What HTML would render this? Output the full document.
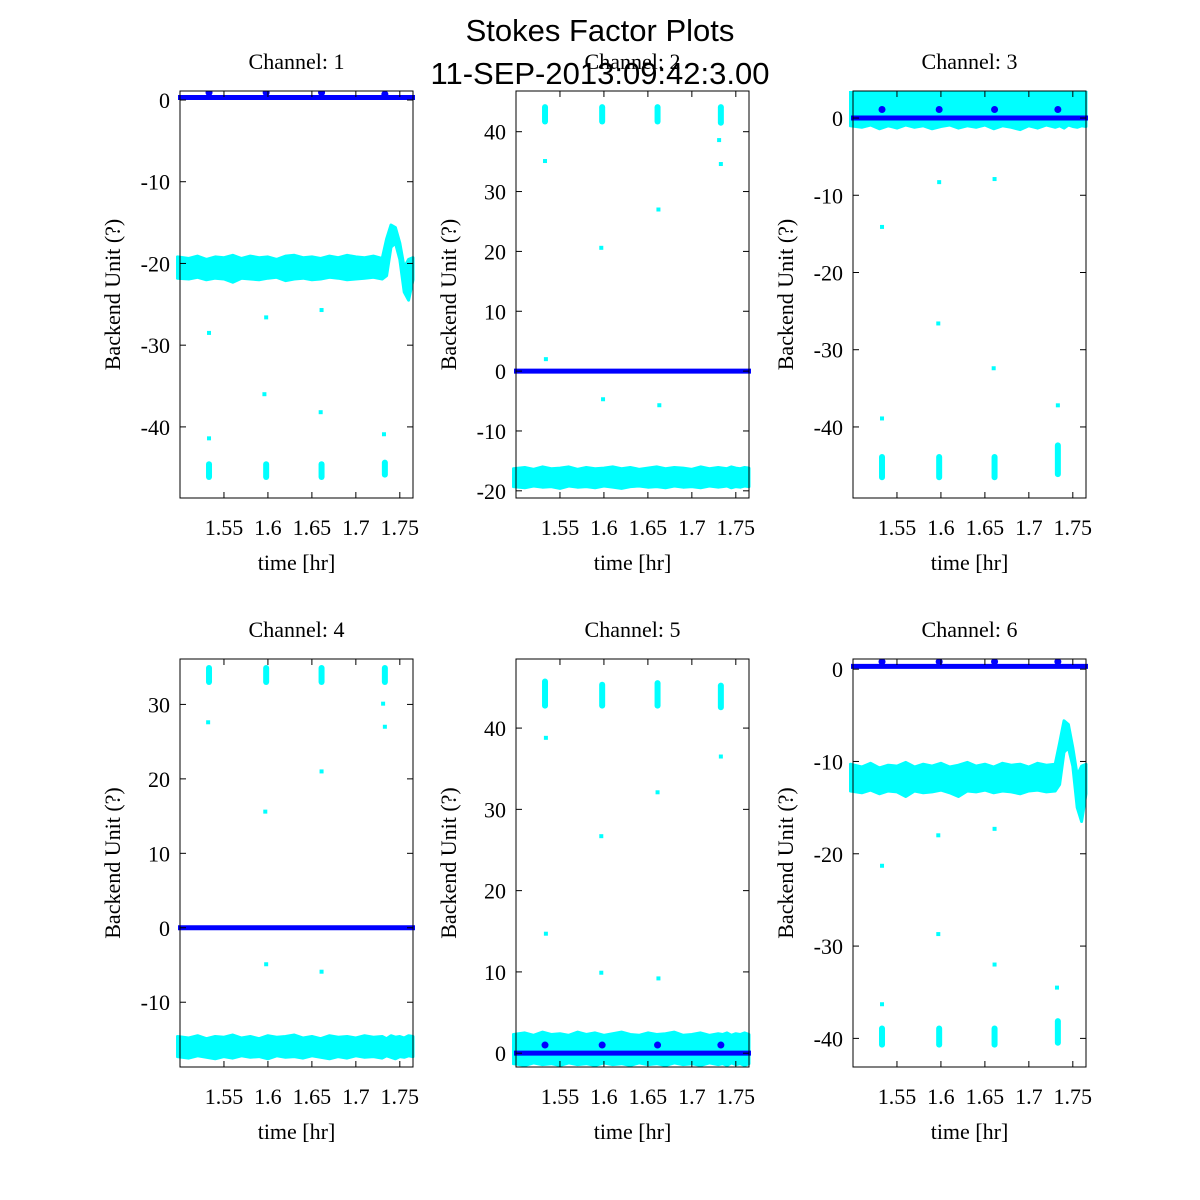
<!DOCTYPE html>
<html><head><meta charset="utf-8"><style>
html,body{margin:0;padding:0;background:#fff;}
svg{display:block;}
.t{font-family:"Liberation Serif",serif;font-size:22px;fill:#000;}
.h{font-family:"Liberation Sans",sans-serif;font-size:31px;fill:#000;}
</style></head><body>
<svg id="fig" width="1200" height="1200" viewBox="0 0 1200 1200" xmlns="http://www.w3.org/2000/svg">
<rect width="1200" height="1200" fill="#fff"/>
</svg>
<script>
const xTicks=[1.55,1.6,1.65,1.7,1.75];
const xTickLabels=["1.55","1.6","1.65","1.7","1.75"];
const xDomain=[1.5,1.765];
const pulseTimes=[1.533,1.598,1.661,1.733];
const bandTimes=[1.497,1.51,1.52,1.53,1.54,1.55,1.56,1.57,1.58,1.59,1.6,1.61,1.62,1.63,1.64,1.65,1.66,1.67,1.68,1.69,1.7,1.71,1.72,1.73,1.735,1.74,1.745,1.75,1.755,1.76,1.765];
// channel 1
const ch1YTicks=[0,-10,-20,-30,-40];
const ch1Domain=[-48.7,1.1];
const ch1BandHi=[-19.2,-19.4,-19.1,-19.5,-19.2,-19.3,-19.0,-19.4,-19.1,-19.3,-19.2,-19.5,-19.1,-19.0,-19.3,-19.2,-19.4,-19.1,-19.3,-19.0,-19.2,-19.3,-19.1,-19.4,-17.0,-15.3,-15.6,-17.5,-20.5,-19.5,-19.3];
const ch1BandLo=[-21.8,-21.9,-21.7,-22.0,-21.8,-21.9,-22.3,-21.8,-21.9,-22.0,-21.8,-21.7,-22.1,-21.9,-21.8,-22.0,-21.9,-21.7,-21.8,-22.0,-21.9,-21.8,-21.7,-21.9,-21.5,-18.0,-17.5,-19.5,-23.5,-24.5,-22.0];
const ch1Blue=0.3;
const ch1BlueMarks=[0.9,0.9,0.9,0.7];
const ch1ClusterLo=[-46.5,-46.5,-46.5,-46.2];
const ch1ClusterHi=[-44.2,-44.2,-44.2,-44.0];
const ch1OutT=[1.533,1.533,1.598,1.596,1.661,1.660,1.732];
const ch1OutV=[-28.5,-41.4,-26.6,-36.0,-25.7,-38.2,-40.9];
// channel 2
const ch2YTicks=[40,30,20,10,0,-10,-20];
const ch2Domain=[-21.2,46.8];
const ch2BandHi=[-16.3,-16.1,-16.4,-16.0,-16.3,-16.2,-16.0,-16.4,-16.1,-16.3,-16.2,-16.0,-16.3,-16.1,-16.4,-16.2,-16.0,-16.3,-16.1,-16.2,-16.4,-16.0,-16.3,-16.1,-16.2,-16.3,-16.0,-16.2,-16.3,-16.1,-16.2];
const ch2BandLo=[-19.3,-19.5,-19.2,-19.4,-19.3,-19.6,-19.2,-19.4,-19.3,-19.5,-19.2,-19.4,-19.6,-19.3,-19.2,-19.4,-19.3,-19.5,-19.2,-19.4,-19.3,-19.5,-19.2,-19.4,-19.3,-19.2,-19.5,-19.3,-19.4,-19.2,-19.3];
const ch2Blue=0;
const ch2BlueMarks=[];
const ch2ClusterLo=[41.2,41.2,41.2,41.0];
const ch2ClusterHi=[44.6,44.6,44.6,44.6];
const ch2OutT=[1.533,1.534,1.597,1.599,1.662,1.663,1.731,1.733];
const ch2OutV=[35.1,2.0,20.6,-4.7,27.0,-5.7,38.6,34.6];
// channel 3
const ch3YTicks=[0,-10,-20,-30,-40];
const ch3Domain=[-49.2,3.5];
const ch3BandHi=[3.5,3.5,3.5,3.5,3.5,3.5,3.5,3.5,3.5,3.5,3.5,3.5,3.5,3.5,3.5,3.5,3.5,3.5,3.5,3.5,3.5,3.5,3.5,3.5,3.5,3.5,3.5,3.5,3.5,3.5,3.5];
const ch3BandLo=[-1.0,-1.2,-0.9,-1.4,-1.0,-1.3,-0.9,-1.2,-1.0,-1.4,-1.1,-0.9,-1.3,-1.0,-1.2,-0.9,-1.4,-1.0,-1.2,-1.5,-1.0,-1.3,-0.9,-1.2,-1.0,-1.3,-0.9,-1.1,-1.2,-1.0,-1.1];
const ch3Blue=0;
const ch3BlueMarks=[1.1,1.1,1.1,1.1];
const ch3ClusterLo=[-46.9,-46.9,-46.9,-46.5];
const ch3ClusterHi=[-43.5,-43.5,-43.5,-42.0];
const ch3OutT=[1.533,1.533,1.598,1.597,1.661,1.660,1.733];
const ch3OutV=[-14.1,-38.9,-8.3,-26.6,-7.9,-32.4,-37.2];
// channel 4
const ch4YTicks=[30,20,10,0,-10];
const ch4Domain=[-18.7,36.1];
const ch4BandHi=[-14.6,-14.8,-14.5,-14.9,-14.6,-14.7,-14.4,-14.8,-14.6,-14.9,-14.5,-14.7,-14.6,-14.4,-14.8,-14.6,-14.9,-14.5,-14.7,-14.6,-14.8,-14.5,-14.7,-14.6,-14.9,-14.5,-14.7,-14.6,-14.8,-14.5,-14.6];
const ch4BandLo=[-17.3,-17.5,-17.2,-17.4,-17.6,-17.3,-17.5,-17.2,-17.4,-17.3,-17.6,-17.2,-17.4,-17.3,-17.5,-17.2,-17.4,-17.6,-17.3,-17.5,-17.2,-17.4,-17.3,-17.5,-17.2,-17.4,-17.6,-17.3,-17.4,-17.2,-17.3];
const ch4Blue=0;
const ch4BlueMarks=[];
const ch4ClusterLo=[32.6,32.6,32.6,32.6];
const ch4ClusterHi=[35.3,35.3,35.3,35.3];
const ch4OutT=[1.532,1.597,1.598,1.661,1.661,1.731,1.733];
const ch4OutV=[27.6,15.6,-4.9,21.0,-5.9,30.1,27.0];
// channel 5
const ch5YTicks=[40,30,20,10,0];
const ch5Domain=[-1.7,48.5];
const ch5BandHi=[2.3,2.5,2.2,2.6,2.3,2.4,2.2,2.6,2.3,2.5,2.2,2.4,2.6,2.3,2.2,2.5,2.3,2.4,2.6,2.2,2.3,2.5,2.2,2.4,2.3,2.5,2.2,2.4,2.3,2.5,2.3];
const ch5BandLo=[-1.3,-1.5,-1.2,-1.4,-1.3,-1.5,-1.2,-1.4,-1.3,-1.5,-1.2,-1.4,-1.3,-1.5,-1.2,-1.4,-1.3,-1.5,-1.2,-1.4,-1.3,-1.5,-1.2,-1.4,-1.3,-1.5,-1.2,-1.4,-1.3,-1.5,-1.3];
const ch5Blue=0;
const ch5BlueMarks=[1.0,1.0,1.0,1.0];
const ch5ClusterLo=[42.4,42.4,42.4,42.2];
const ch5ClusterHi=[46.1,45.7,45.9,45.6];
const ch5OutT=[1.534,1.534,1.597,1.597,1.661,1.662,1.733];
const ch5OutV=[38.8,14.7,26.7,9.9,32.1,9.2,36.5];
// channel 6
const ch6YTicks=[0,-10,-20,-30,-40];
const ch6Domain=[-43.1,1.1];
const ch6BandHi=[-10.3,-10.6,-10.2,-10.7,-10.4,-10.5,-10.1,-10.6,-10.3,-10.5,-10.2,-10.6,-10.4,-10.1,-10.5,-10.3,-10.6,-10.2,-10.4,-10.3,-10.6,-10.2,-10.4,-10.3,-8.0,-5.6,-6.0,-8.5,-11.5,-10.5,-10.3];
const ch6BandLo=[-13.2,-13.4,-13.1,-13.5,-13.2,-13.3,-13.8,-13.2,-13.4,-13.3,-13.1,-13.4,-13.8,-13.2,-13.3,-13.1,-13.4,-13.2,-13.3,-13.5,-13.2,-13.1,-13.3,-13.2,-12.5,-9.0,-8.5,-10.5,-15.0,-16.5,-13.5];
const ch6Blue=0.3;
const ch6BlueMarks=[0.8,0.8,0.8,0.8];
const ch6ClusterLo=[-41.0,-41.0,-41.0,-40.8];
const ch6ClusterHi=[-38.6,-38.6,-38.6,-37.8];
const ch6OutT=[1.533,1.533,1.597,1.597,1.661,1.661,1.732];
const ch6OutV=[-21.3,-36.3,-18.0,-28.7,-17.3,-32.0,-34.5];

const panels=[
 {n:1,L:180,T:91,W:233,H:407,yt:ch1YTicks,d:ch1Domain,hi:ch1BandHi,lo:ch1BandLo,b:ch1Blue,bm:ch1BlueMarks,cl:ch1ClusterLo,ch:ch1ClusterHi,ot:ch1OutT,ov:ch1OutV},
 {n:2,L:516,T:91,W:233,H:407,yt:ch2YTicks,d:ch2Domain,hi:ch2BandHi,lo:ch2BandLo,b:ch2Blue,bm:ch2BlueMarks,cl:ch2ClusterLo,ch:ch2ClusterHi,ot:ch2OutT,ov:ch2OutV},
 {n:3,L:853,T:91,W:233,H:407,yt:ch3YTicks,d:ch3Domain,hi:ch3BandHi,lo:ch3BandLo,b:ch3Blue,bm:ch3BlueMarks,cl:ch3ClusterLo,ch:ch3ClusterHi,ot:ch3OutT,ov:ch3OutV},
 {n:4,L:180,T:659,W:233,H:408,yt:ch4YTicks,d:ch4Domain,hi:ch4BandHi,lo:ch4BandLo,b:ch4Blue,bm:ch4BlueMarks,cl:ch4ClusterLo,ch:ch4ClusterHi,ot:ch4OutT,ov:ch4OutV},
 {n:5,L:516,T:659,W:233,H:408,yt:ch5YTicks,d:ch5Domain,hi:ch5BandHi,lo:ch5BandLo,b:ch5Blue,bm:ch5BlueMarks,cl:ch5ClusterLo,ch:ch5ClusterHi,ot:ch5OutT,ov:ch5OutV},
 {n:6,L:853,T:659,W:233,H:408,yt:ch6YTicks,d:ch6Domain,hi:ch6BandHi,lo:ch6BandLo,b:ch6Blue,bm:ch6BlueMarks,cl:ch6ClusterLo,ch:ch6ClusterHi,ot:ch6OutT,ov:ch6OutV}
];
const NS="http://www.w3.org/2000/svg";
const fig=document.getElementById('fig');
function mk(tag,attrs,parent,text){const e=document.createElementNS(NS,tag);for(const k in attrs)e.setAttribute(k,attrs[k]);if(text!==undefined)e.textContent=text;parent.appendChild(e);return e;}
panels.forEach(p=>{
 const g=mk('g',{},fig);
 
 
 const sx=v=>p.L+(v-xDomain[0])/(xDomain[1]-xDomain[0])*p.W;
 const sy=v=>p.T+p.H-(v-p.d[0])/(p.d[1]-p.d[0])*p.H;
 const clipId='clip'+p.n;
 const cp=mk('clipPath',{id:clipId},g);
 mk('rect',{x:p.L-4,y:p.T,width:p.W+8,height:p.H},cp);
 const dg=mk('g',{'clip-path':'url(#'+clipId+')'},g);
 // band
 let pts=[];
 bandTimes.forEach((t,i)=>pts.push(sx(t).toFixed(1)+','+sy(p.hi[i]).toFixed(1)));
 for(let i=bandTimes.length-1;i>=0;i--)pts.push(sx(bandTimes[i]).toFixed(1)+','+sy(p.lo[i]).toFixed(1));
 const band=mk('polygon',{points:pts.join(' '),fill:'#00ffff',stroke:'#00ffff','stroke-width':3,'stroke-linejoin':'round'},dg);
 
 
 // clusters
 pulseTimes.forEach((t,i)=>{
  const y1=sy(p.ch[i]),y2=sy(p.cl[i]);
  const c=mk('rect',{x:sx(t)-3,y:y1,width:6,height:y2-y1,rx:3,fill:'#00ffff'},dg);
  
  
 });
 // outliers
 p.ot.forEach((t,i)=>{
  const o=mk('rect',{x:sx(t)-2,y:sy(p.ov[i])-2,width:4,height:4,fill:'#00ffff'},dg);
  
  
 });
 // blue line
 const bl=mk('line',{x1:p.L-2,x2:p.L+p.W+2,y1:sy(p.b),y2:sy(p.b),stroke:'#0000ff','stroke-width':5},dg);
 
 
 p.bm.forEach((v,i)=>{
  const m=mk('circle',{cx:sx(pulseTimes[i]),cy:sy(v),r:3.5,fill:'#0000ff'},dg);
  
  
 });
 // frame
 const fr=mk('rect',{x:p.L,y:p.T,width:p.W,height:p.H,fill:'none',stroke:'#000','stroke-width':1},g);
 
 
 // x ticks
 xTicks.forEach((v,i)=>{
  const x=sx(v);
  mk('line',{x1:x,x2:x,y1:p.T+p.H,y2:p.T+p.H-6,stroke:'#000'},g);
  mk('line',{x1:x,x2:x,y1:p.T,y2:p.T+6,stroke:'#000'},g);
  const tl=mk('text',{x:x,y:p.T+p.H+37,'text-anchor':'middle',class:'t'},g,xTickLabels[i]);
  
  
 });
 p.yt.forEach(v=>{
  const y=sy(v);
  mk('line',{x1:p.L,x2:p.L+6,y1:y,y2:y,stroke:'#000'},g);
  mk('line',{x1:p.L+p.W,x2:p.L+p.W-6,y1:y,y2:y,stroke:'#000'},g);
  const tl=mk('text',{x:p.L-10,y:y+8,'text-anchor':'end',class:'t'},g,String(v));
  
  
 });
 const xl=mk('text',{x:p.L+p.W/2,y:p.T+p.H+72,'text-anchor':'middle',class:'t'},g,'time [hr]');
 
 
 const yx=p.L-60,yy=p.T+p.H/2;
 const yl=mk('text',{x:yx,y:yy,'text-anchor':'middle',class:'t',transform:'rotate(-90 '+yx+' '+yy+')'},g,'Backend Unit (?)');
 
 
 const st=mk('text',{x:p.L+p.W/2,y:p.T-22,'text-anchor':'middle',class:'t'},g,'Channel: '+p.n);
 
 
});
const t1=mk('text',{x:600,y:41,'text-anchor':'middle',class:'h'},fig,'Stokes Factor Plots');


const t2=mk('text',{x:600,y:84,'text-anchor':'middle',class:'h'},fig,'11-SEP-2013:09:42:3.00');


</script>
</body></html>
